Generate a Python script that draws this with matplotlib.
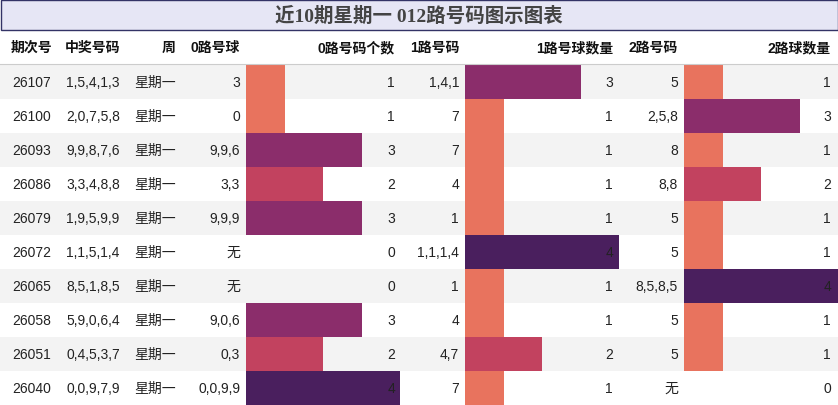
import matplotlib
matplotlib.use("Agg")
import matplotlib.pyplot as plt
from matplotlib.patches import Rectangle

plt.rcParams['font.family'] = ['Liberation Sans', 'Noto Sans CJK SC', 'DejaVu Sans']

issues = ["26107","26100","26093","26086","26079","26072","26065","26058","26051","26040"]
draws = ["1,5,4,1,3","2,0,7,5,8","9,9,8,7,6","3,3,4,8,8","1,9,5,9,9","1,1,5,1,4","8,5,1,8,5","5,9,0,6,4","0,4,5,3,7","0,0,9,7,9"]
week = ["星期一"]*10
r0 = ["3","0","9,9,6","3,3","9,9,9","无","无","9,0,6","0,3","0,0,9,9"]
c0 = [1,1,3,2,3,0,0,3,2,4]
r1 = ["1,4,1","7","7","4","1","1,1,1,4","1","4","4,7","7"]
c1 = [3,1,1,1,1,4,1,1,2,1]
r2 = ["5","2,5,8","8","8,8","5","5","8,5,8,5","5","5","无"]
c2 = [1,3,1,2,1,1,4,1,1,0]
headers = ["期次号","中奖号码","周","0路号球","0路号码个数","1路号码","1路号球数量","2路号码","2路球数量"]
title = "近10期星期一 012路号码图示图表"

colors = {1:"#e8735e", 2:"#c2425f", 3:"#8b2d6b", 4:"#4a1f5e"}

W, H = 838, 406
fig = plt.figure(figsize=(W/100, H/100), dpi=100)
ax = fig.add_axes([0,0,1,1])
ax.set_xlim(0, W); ax.set_ylim(H, 0); ax.axis('off')

ax.add_patch(Rectangle((0.5,0.5), W-1, 30, facecolor="#e6e6f5", edgecolor="#333366", lw=1))
ax.text(W/2, 16, title, ha='center', va='center', fontsize=14, fontweight='bold', color='#444444',
        family=['Liberation Serif', 'Noto Sans CJK SC'])

hy = 48
hx = [(32,'center'),(93,'center'),(176,'right'),(240,'right'),(395,'right'),(459,'right'),(613,'right'),(678,'right'),(831,'right')]
for (x,a),h in zip(hx, headers):
    ax.text(x, hy, h, ha=a, va='center', fontsize=10, fontweight='bold', color='#111111')
ax.plot([0,W],[65,65], color='#cccccc', lw=0.8)

top, rh = 65.5, 34.05
bars = [(246, c0), (465, c1), (684, c2)]
scale = 154/4
for i in range(10):
    y0 = top + i*rh; yc = y0 + rh/2
    if i % 2 == 0:
        ax.add_patch(Rectangle((0,y0), W, rh, facecolor="#f3f3f3", edgecolor='none', zorder=0))
    for x0, cs in bars:
        v = cs[i]
        if v > 0:
            ax.barh(yc, v*scale, height=rh, left=x0, color=colors[v], zorder=1)
    vals = [issues[i], draws[i], week[i], r0[i], str(c0[i]), r1[i], str(c1[i]), r2[i], str(c2[i])]
    pos = [(32,'center'),(93,'center'),(155,'center'),(240,'right'),(395,'right'),(459,'right'),(613,'right'),(678,'right'),(831,'right')]
    for (x,a),t in zip(pos, vals):
        ax.text(x, yc, t, ha=a, va='center', fontsize=10, color='#222222', zorder=2)

fig.savefig("out.png", dpi=100)
